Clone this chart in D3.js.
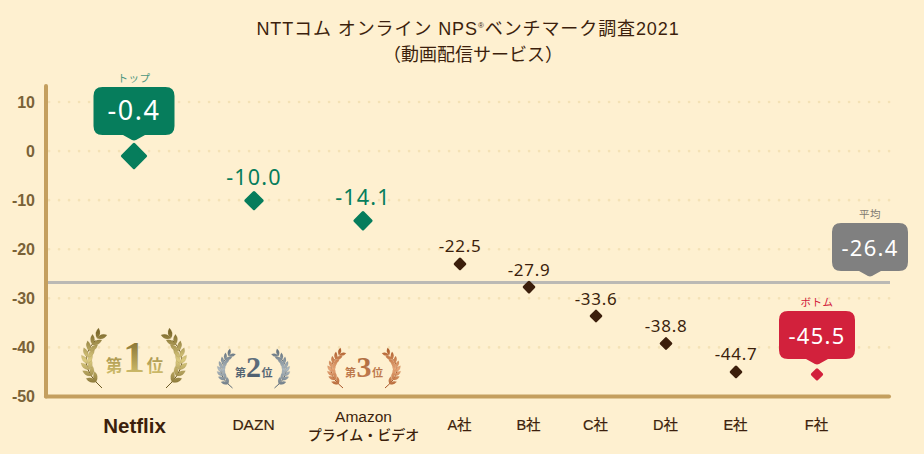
<!DOCTYPE html>
<html lang="ja"><head><meta charset="utf-8">
<script src="https://cdn.jsdelivr.net/npm/d3@7"></script>
<style>
html,body{margin:0;padding:0;background:#fef0d0;}
svg{display:block;}
text{font-family:"Liberation Sans","Noto Sans CJK JP",sans-serif;}
text.num{font-family:"Noto Sans",sans-serif;}
text.jp{font-family:"Noto Sans CJK JP","Noto Sans",sans-serif;}
</style></head><body><div id="chart"></div>
<script>
// ---- data ----
const categories = ["Netflix","DAZN","Amazon\nプライム・ビデオ","A社","B社","C社","D社","E社","F社"];
const scoreLabels = ["-0.4","-10.0","-14.1","-22.5","-27.9","-33.6","-38.8","-44.7","-45.5"];
// marker heights
const markerValues = [-1.0,-10.1,-14.2,-23.0,-27.7,-33.6,-39.2,-45.0,-45.5];
const averageLabel = "-26.4";
const averageValue = -26.75;
const yTicks = [10,0,-10,-20,-30,-40,-50];
const rankNumbers = ["1","2","3"];

// ---- layout and style ----
const W=924,H=454;
const xColumns=[134,254,363,460,529,596,666,736,817];
const INK="#3c1f0c",GREEN="#067d5c",RED="#d2213c",GRAY="#808080",AXIS="#c49f5e";
const y=d3.scaleLinear().domain([-50,10]).range([396.5,102]);
const x=d3.scaleOrdinal().domain(categories).range(xColumns);
const svg=d3.select("#chart").append("svg").attr("width",W).attr("height",H).attr("viewBox",`0 0 ${W} ${H}`);
const defs=svg.append("defs");

// title
const title=svg.append("g").attr("fill",INK).attr("text-anchor","middle");
const t1=title.append("text").attr("x",468).attr("y",34.5).attr("font-size",18).attr("letter-spacing",0.9);
t1.append("tspan").text("NTTコム オンライン NPS");
t1.append("tspan").attr("font-size",8).attr("dy",-7).text("®");
t1.append("tspan").attr("dy",7).text("ベンチマーク調査2021");
title.append("text").attr("class","jp").attr("x",473).attr("y",61).attr("font-size",18).text("（動画配信サービス）");

// grid
svg.append("g").selectAll("line").data(yTicks.slice(0,-1)).join("line")
  .attr("x1",49).attr("x2",890).attr("y1",d=>y(d)).attr("y2",d=>y(d))
  .attr("stroke","#f4e2b6").attr("stroke-width",2.6).attr("stroke-linecap","round").attr("stroke-dasharray","0.1 9.9");

// y axis
const yAxis=svg.append("g").attr("transform","translate(37,0)")
  .call(d3.axisLeft(y).tickValues(yTicks).tickFormat(d=>String(d)).tickSize(0).tickPadding(2));
yAxis.select(".domain").remove();
yAxis.selectAll("text").attr("fill","#7a6237").attr("font-size",16).attr("font-weight",700);

// axis lines
const ax=svg.append("g").attr("stroke",AXIS).attr("stroke-width",4).attr("stroke-linecap","round");
ax.append("line").attr("x1",46).attr("x2",46).attr("y1",86).attr("y2",396.5);
ax.append("line").attr("x1",46).attr("x2",889).attr("y1",396.5).attr("y2",396.5);

// average line
svg.append("line").attr("x1",48).attr("x2",890).attr("y1",y(averageValue)).attr("y2",y(averageValue))
  .attr("stroke","#bbb9b4").attr("stroke-width",3);

// x axis labels
const xAxis=svg.append("g").attr("transform","translate(0,396.5)")
  .call(d3.axisBottom(x).tickSize(0));
xAxis.select(".domain").remove();
xAxis.selectAll(".tick text").each(function(d,i){
  const s=d3.select(this).text(null).attr("fill",INK).attr("y",0).attr("dy",null);
  const lines=d.split("\n");
  if(i===0){
    s.append("tspan").attr("x",0).attr("y",36).attr("font-size",20.5).attr("font-weight",700).text(lines[0]);
  }else if(lines.length===2){
    s.append("tspan").attr("x",0).attr("y",25.5).attr("font-size",15.5).text(lines[0]);
    s.append("tspan").attr("x",0).attr("y",43.5).attr("font-size",14).attr("font-weight",500)
      .style("font-family",'"Noto Sans CJK JP"').text(lines[1]);
  }else{
    s.append("tspan").attr("x",-1).attr("y",33.5).attr("font-size",i===1?15.5:14.5).text(lines[0])
      .attr("stroke",INK).attr("stroke-width",0.2);
  }
});

// callout helper
function callout(cx,top,w,col,value,cap,capY,capCol,size,ls){
  const h=48,r=9,tail=5,hw=11,l=cx-w/2,rt=cx+w/2,b=top+h;
  const p=d3.path();
  p.moveTo(l+r,top);p.lineTo(rt-r,top);p.quadraticCurveTo(rt,top,rt,top+r);
  p.lineTo(rt,b-r);p.quadraticCurveTo(rt,b,rt-r,b);
  p.lineTo(cx+hw,b);p.lineTo(cx+2,b+tail);p.quadraticCurveTo(cx,b+tail+0.8,cx-2,b+tail);p.lineTo(cx-hw,b);
  p.lineTo(l+r,b);p.quadraticCurveTo(l,b,l,b-r);
  p.lineTo(l,top+r);p.quadraticCurveTo(l,top,l+r,top);p.closePath();
  const g=svg.append("g");
  g.append("path").attr("d",p.toString()).attr("fill",col);
  g.append("text").attr("class","num").attr("x",cx).attr("y",top+32.5).attr("text-anchor","middle").attr("fill","#fff")
    .attr("font-size",size).attr("letter-spacing",ls).text(value);
  g.append("text").attr("class","jp").attr("x",cx).attr("y",capY).attr("text-anchor","middle").attr("fill",capCol)
    .attr("font-size",10.5).attr("letter-spacing",0.5).text(cap);
}

// markers
const markerHalf=[13,9.5,9.5,6.2,6.2,6.2,6.2,6.2,6];
const markerCol=[GREEN,GREEN,GREEN,INK,INK,INK,INK,INK,RED];
svg.append("g").selectAll("path").data(categories).join("path")
  .attr("transform",(d,i)=>`translate(${x(d)},${y(markerValues[i])}) rotate(45)`)
  .attr("d",(d,i)=>{const s=(markerHalf[i]-1.4)*Math.SQRT2;return d3.symbol(d3.symbolSquare,s*s)();})
  .attr("fill",(d,i)=>markerCol[i]).attr("stroke",(d,i)=>markerCol[i])
  .attr("stroke-width",3).attr("stroke-linejoin","round");

// plain value labels
svg.append("g").attr("text-anchor","middle").selectAll("text")
  .data(categories.map((c,i)=>({c,i})).filter(d=>d.i>0&&d.i<8)).join("text")
  .attr("class","num")
  .attr("x",d=>x(d.c)).attr("y",d=>y(markerValues[d.i])-(d.i<3?15.5:11.5))
  .attr("fill",d=>d.i<3?GREEN:INK).attr("font-size",d=>d.i<3?21.5:17)
  .attr("letter-spacing",d=>d.i<3?1.2:0.7)
  .text(d=>scoreLabels[d.i]);

callout(x(categories[0]),87,81,GREEN,scoreLabels[0],"トップ",82,"#4d9680",27,1.5);
callout(870,223,76,GRAY,averageLabel,"平均",218,"#7f7a70",22,1.3);
callout(x(categories[8]),311,76,RED,scoreLabels[8],"ボトム",306,RED,22,1.3);

// laurel badges
const medals=[
 {cx:134,top:332,bot:388,inner:32,outer:54,leaf:10.5,lw:4.2,N:8,sizes:[16.5,44,16.5],gapL:20,gapR:21,base:372,stops:["#7d6a2c","#dccb80","#7d6a2c"],text:["#8a7636","#cbb868"],stem:"#6d5a22"},
 {cx:253.5,top:351,bot:388,inner:21,outer:35.5,leaf:7.5,lw:3,N:8,sizes:[11,30,11],gapL:13,gapR:13.5,base:377,stops:["#66747f","#aeb9c0","#66747f"],text:["#6b7a86","#4f6070"],stem:"#5e6c78"},
 {cx:364,top:350,bot:388,inner:21,outer:36,leaf:7.5,lw:3,N:8,sizes:[11,30,11],gapL:13.5,gapR:13.5,base:377,stops:["#b0602f","#e7a678","#b0602f"],text:["#a8683c","#c07a4e"],stem:"#a8562a"}
];
medals.forEach((m,i)=>{
  const id="grad"+i,tid="tgrad"+i;
  const gr=defs.append("linearGradient").attr("id",id).attr("gradientUnits","userSpaceOnUse")
    .attr("x1",0).attr("x2",0).attr("y1",m.top).attr("y2",m.bot);
  m.stops.forEach((c,k)=>gr.append("stop").attr("offset",k/2).attr("stop-color",c));
  const tg=defs.append("linearGradient").attr("id",tid).attr("gradientUnits","userSpaceOnUse")
    .attr("x1",0).attr("x2",0).attr("y1",m.base-30).attr("y2",m.base);
  m.text.forEach((c,k)=>tg.append("stop").attr("offset",k).attr("stop-color",c));
  const g=svg.append("g").attr("transform",`translate(${m.cx},0)`);
  [-1,1].forEach(side=>{
    const h=m.bot-m.top;
    const P0=[m.inner,m.bot],P1=[m.outer+6,m.top+h*0.55],P2=[m.inner+2,m.top+3];
    const pt=t=>[(1-t)*(1-t)*P0[0]+2*t*(1-t)*P1[0]+t*t*P2[0],(1-t)*(1-t)*P0[1]+2*t*(1-t)*P1[1]+t*t*P2[1]];
    const lg=g.append("g").attr("transform",`scale(${side},1)`);
    lg.append("path").attr("d",`M${P0}Q${P1} ${pt(0.9)}`).attr("fill","none").attr("stroke",m.stem).attr("stroke-width",1);
    d3.range(m.N).forEach(k=>{
      const t=0.12+k*(0.82/(m.N-1)),q=pt(t),q2=pt(t+0.02);
      const ang=Math.atan2(q2[1]-q[1],q2[0]-q[0]);
      [-0.55,0.55].forEach(off=>{
        const L=m.leaf,w=m.lw;
        const A=ang+off,dx=Math.cos(A),dy=Math.sin(A),nx=-dy,ny=dx;
        const ex=q[0]+dx*L,ey=q[1]+dy*L,mx=q[0]+dx*L*0.5,my=q[1]+dy*L*0.5;
        lg.append("path").attr("fill",`url(#${id})`).attr("stroke",m.stem).attr("stroke-opacity",0.35).attr("stroke-width",0.3)
          .attr("d",`M${q[0]},${q[1]}Q${mx+nx*w},${my+ny*w} ${ex},${ey}Q${mx-nx*w},${my-ny*w} ${q[0]},${q[1]}Z`);
      });
    });
  });
  g.append("text").attr("class","jp").attr("x",-m.gapL).attr("y",m.base).attr("text-anchor","middle").attr("font-size",m.sizes[0]).attr("font-weight",700)
    .attr("fill",`url(#${tid})`).text("第");
  g.append("text").attr("x",0).attr("y",m.base).attr("text-anchor","middle").attr("font-size",m.sizes[1]).attr("font-weight",700)
    .style("font-family",'"Liberation Serif",serif').attr("fill",`url(#${tid})`).text(rankNumbers[i]);
  g.append("text").attr("class","jp").attr("x",m.gapR).attr("y",m.base).attr("text-anchor","middle").attr("font-size",m.sizes[2]).attr("font-weight",700)
    .attr("fill",`url(#${tid})`).text("位");
});
</script></body></html>
